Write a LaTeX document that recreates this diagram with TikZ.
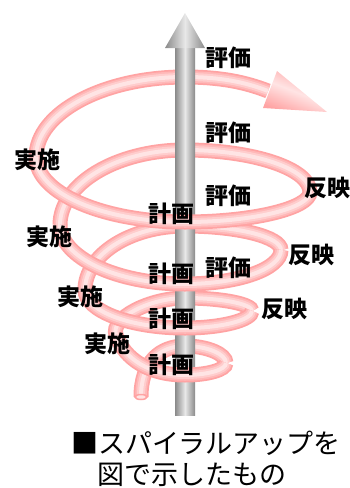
\documentclass[tikz,border=0pt]{standalone}
\usepackage{fontspec}
\newfontfamily\jp{Noto Sans CJK JP}
\definecolor{pkA}{HTML}{FFA3A3}
\definecolor{pkB}{HTML}{FFB8B8}
\definecolor{pkC}{HTML}{FFCDCD}
\definecolor{pkD}{HTML}{FFE4E4}
\definecolor{axD}{HTML}{8A8A8A}
\definecolor{axL}{HTML}{E8E8E8}
% a pink tube: the same path stroked in narrowing, lightening layers
\newcommand\tubepath[1]{%
  \foreach \w/\c in {15/pkA,11.5/pkB,8/pkC,4/pkD}{\draw[line width=\w, draw=\c] #1;}}
\tikzset{
  lbl/.style={font=\jp\bfseries\fontsize{23}{23}\selectfont, inner sep=0pt},
  captext/.style={font=\jp\fontsize{27}{27}\selectfont, inner sep=0pt},
  shaft/.style={left color=axD, right color=axD, middle color=axL},
  headfill/.style={top color=pkA, bottom color=pkA, middle color=pkD, shading angle=-21.5}
}
\begin{document}
\begin{tikzpicture}[x=1pt,y=-1pt]
\useasboundingbox (0,0) rectangle (350,488);

% key points of the spiral: left and right turning points of each turn
\coordinate (L0) at (116,335);
\coordinate (L1) at (85,290);
\coordinate (L2) at (60,225);
\coordinate (L3) at (36,157);
\coordinate (R0) at (226,363);
\coordinate (R1) at (252,311);
\coordinate (R2) at (281,250);
\coordinate (R3) at (310,192);
\coordinate (tail) at (141,397);
\coordinate (tipbase) at (268,91);

% rear halves of the turns (behind the axis), outermost first
\tubepath{(L3) .. controls (36,113) and (103,77) .. (185,77) .. controls (220,77) and (245,82) .. (tipbase)}
\shade[headfill] (277,71) -- (327,112) -- (263,108) -- cycle;
\tubepath{(L2) .. controls (60,184) and (116,150) .. (185,150) .. controls (254,150) and (310,169) .. (R3)}
\tubepath{(L1) .. controls (85,255) and (130,226) .. (185,226) .. controls (238,226) and (281,237) .. (R2)}
\tubepath{(L0) .. controls (110,318) and (150,298) .. (185,298) .. controls (222,298) and (252,304) .. (R1)}
\tubepath{(tail) .. controls (141,362) and (160,346) .. (185,346) .. controls (207,346) and (226,354) .. (R0)}
% open end of the tube
\filldraw[fill=pkD, draw=pkA, line width=1.5] (tail) ellipse [x radius=6, y radius=2.5];

% the grey upward arrow
\shade[shaft] (175,48) rectangle (195,415);
\shade[shaft] (165,48) -- (205,48) -- (185,13) -- cycle;

% front halves of the turns (in front of the axis), innermost first
\tubepath{(R0) .. controls (226,370) and (207,375) .. (185,375) .. controls (150,375) and (125,360) .. (L0)}
\tubepath{(R1) .. controls (252,320) and (222,328) .. (185,328) .. controls (130,328) and (85,311) .. (L1)}
\tubepath{(R2) .. controls (281,269) and (238,284) .. (185,284) .. controls (116,284) and (60,257) .. (L2)}
\tubepath{(R3) .. controls (310,208) and (254,222) .. (185,222) .. controls (103,222) and (36,193) .. (L3)}

% labels
\node[lbl] (hy4) at (228,58) {評価};
\node[lbl] (hy3) at (228,133) {評価};
\node[lbl] (hy2) at (228,196) {評価};
\node[lbl] (hy1) at (228,268) {評価};
\node[lbl] (kk4) at (171,214) {計画};
\node[lbl] (kk3) at (171,274) {計画};
\node[lbl] (kk2) at (171,319) {計画};
\node[lbl] (kk1) at (171,365) {計画};
\node[lbl] (js4) at (37,160) {実施};
\node[lbl] (js3) at (50,237) {実施};
\node[lbl] (js2) at (80,297) {実施};
\node[lbl] (js1) at (107,344) {実施};
\node[lbl] (ha3) at (327,188) {反映};
\node[lbl] (ha2) at (311,255) {反映};
\node[lbl] (ha1) at (284,309) {反映};

% caption
\node[captext] (cap1) at (206,443) {■スパイラルアップを};
\node[captext] (cap2) at (192,475) {図で示したもの};
\end{tikzpicture}
\end{document}
